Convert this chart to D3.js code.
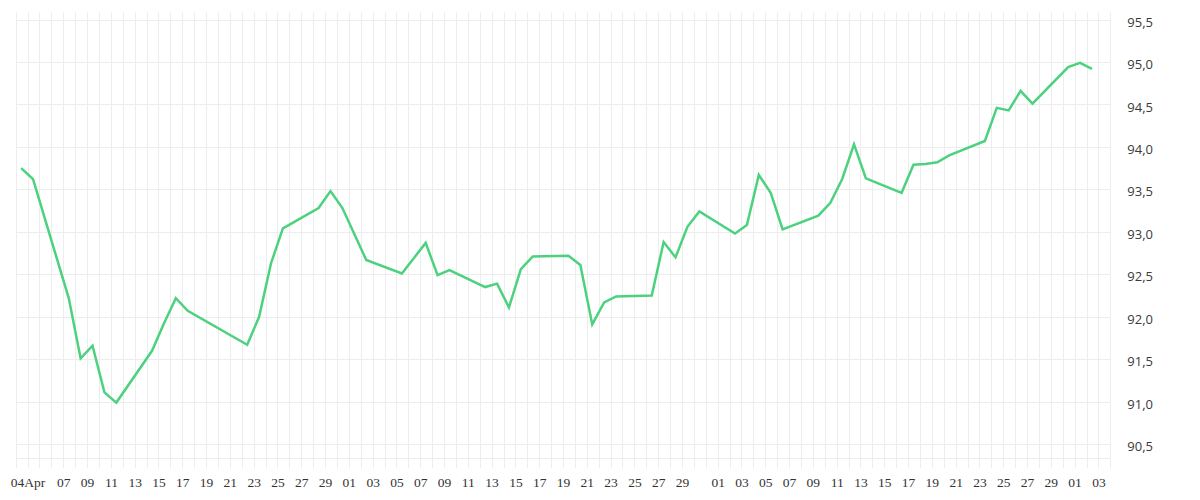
<!DOCTYPE html>
<html>
<head>
<meta charset="utf-8">
<script src="https://cdn.jsdelivr.net/npm/d3@7"></script>
<style>
  html, body { margin: 0; padding: 0; background: #fff; }
  svg { display: block; }
</style>
</head>
<body>
<svg id="chart" width="1200" height="500"></svg>
<script>
// ---- data ----
const dates = [
  "2025-04-03","2025-04-04","2025-04-07","2025-04-08","2025-04-09","2025-04-10","2025-04-11",
  "2025-04-14","2025-04-15","2025-04-16","2025-04-17","2025-04-22","2025-04-23","2025-04-24","2025-04-25",
  "2025-04-28","2025-04-29","2025-04-30","2025-05-02",
  "2025-05-05","2025-05-06","2025-05-07","2025-05-08","2025-05-09",
  "2025-05-12","2025-05-13","2025-05-14","2025-05-15","2025-05-16",
  "2025-05-19","2025-05-20","2025-05-21","2025-05-22","2025-05-23",
  "2025-05-26","2025-05-27","2025-05-28","2025-05-29","2025-05-30",
  "2025-06-02","2025-06-03","2025-06-04","2025-06-05","2025-06-06",
  "2025-06-09","2025-06-10","2025-06-11","2025-06-12","2025-06-13",
  "2025-06-16","2025-06-17","2025-06-18","2025-06-19","2025-06-20",
  "2025-06-23","2025-06-24","2025-06-25","2025-06-26","2025-06-27",
  "2025-06-30","2025-07-01","2025-07-02"
];
const values = [
  93.75, 93.62, 92.22, 91.51, 91.66, 91.11, 90.99,
  91.60, 91.92, 92.22, 92.07, 91.67, 92.00, 92.63, 93.04,
  93.28, 93.48, 93.28, 92.67,
  92.51, 92.69, 92.87, 92.49, 92.55,
  92.35, 92.39, 92.11, 92.56, 92.71,
  92.72, 92.61, 91.91, 92.17, 92.24,
  92.25, 92.88, 92.70, 93.06, 93.24,
  92.98, 93.08, 93.67, 93.46, 93.03,
  93.19, 93.34, 93.62, 94.03, 93.63,
  93.46, 93.79, 93.80, 93.82, 93.90,
  94.07, 94.46, 94.43, 94.66, 94.51,
  94.94, 94.99, 94.92
];
const sampleHour = 11; // time of day of each quote
const tickDates = [
  "2025-04-04","2025-04-07","2025-04-09","2025-04-11","2025-04-13","2025-04-15","2025-04-17","2025-04-19",
  "2025-04-21","2025-04-23","2025-04-25","2025-04-27","2025-04-29","2025-05-01","2025-05-03","2025-05-05",
  "2025-05-07","2025-05-09","2025-05-11","2025-05-13","2025-05-15","2025-05-17","2025-05-19","2025-05-21",
  "2025-05-23","2025-05-25","2025-05-27","2025-05-29","2025-06-01","2025-06-03","2025-06-05","2025-06-07",
  "2025-06-09","2025-06-11","2025-06-13","2025-06-15","2025-06-17","2025-06-19","2025-06-21","2025-06-23",
  "2025-06-25","2025-06-27","2025-06-29","2025-07-01","2025-07-03"
];
const tickLabels = [
  "04Apr","07","09","11","13","15","17","19",
  "21","23","25","27","29","01","03","05",
  "07","09","11","13","15","17","19","21",
  "23","25","27","29","01","03","05","07",
  "09","11","13","15","17","19","21","23",
  "25","27","29","01","03"
];
const xDomain = ["2025-04-03","2025-07-04"];
const yDomain = [90.334, 95.585];
const yTicks = [90.5, 91.0, 91.5, 92.0, 92.5, 93.0, 93.5, 94.0, 94.5, 95.0, 95.5];

// ---- layout ----
const plot = { left: 15.7, right: 1110.3, top: 12.3, bottom: 458.3, tickBottom: 468 };

const parse = d3.timeParse("%Y-%m-%d");
const data = dates.map((d, i) => ({ t: d3.timeHour.offset(parse(d), sampleHour), v: values[i] }));

const x = d3.scaleTime().domain(xDomain.map(parse)).range([plot.left, plot.right]);
const y = d3.scaleLinear().domain(yDomain).range([plot.bottom, plot.top]);

const svg = d3.select("#chart");
const gridColor = "#ededed";

// vertical grid: every day
const days = d3.timeDay.range(parse(xDomain[0]), d3.timeDay.offset(parse(xDomain[1]), 1));
svg.append("g").selectAll("line").data(days).join("line")
  .attr("x1", d => Math.round(x(d)) + 0.5).attr("x2", d => Math.round(x(d)) + 0.5)
  .attr("y1", plot.top).attr("y2", plot.tickBottom)
  .attr("stroke", gridColor).attr("stroke-width", 1);

// horizontal grid
svg.append("g").selectAll("line").data(yTicks).join("line")
  .attr("x1", plot.left).attr("x2", plot.right)
  .attr("y1", d => Math.round(y(d)) + 0.5).attr("y2", d => Math.round(y(d)) + 0.5)
  .attr("stroke", gridColor).attr("stroke-width", 1);
// bottom boundary
svg.append("line")
  .attr("x1", plot.left).attr("x2", plot.right)
  .attr("y1", Math.round(plot.bottom) + 0.5).attr("y2", Math.round(plot.bottom) + 0.5)
  .attr("stroke", gridColor).attr("stroke-width", 1);

// line
const line = d3.line().x(d => x(d.t)).y(d => y(d.v));
svg.append("path").datum(data)
  .attr("d", line)
  .attr("fill", "none")
  .attr("stroke", "#4cd27e")
  .attr("stroke-width", 2.5)
  .attr("stroke-linejoin", "miter")
  .attr("stroke-linecap", "butt");

// x axis
const xAxis = d3.axisBottom(x)
  .tickValues(tickDates.map(parse))
  .tickSize(0)
  .tickPadding(0)
  .tickFormat((d, i) => tickLabels[i]);
const gx = svg.append("g").attr("transform", `translate(0,${plot.bottom})`).call(xAxis);
gx.select(".domain").remove();
gx.selectAll("text")
  .attr("y", 29).attr("dy", 0)
  .attr("font-family", "'Liberation Serif', 'Times New Roman', serif")
  .attr("font-size", 13.5)
  .attr("fill", "#333");

// y axis
const locale = d3.formatLocale({ decimal: ",", thousands: ".", grouping: [3], currency: ["", "€"] });
const fmt = locale.format(".1f");
const yAxis = d3.axisRight(y).tickValues(yTicks).tickSize(0).tickPadding(0).tickFormat(fmt);
const gy = svg.append("g").attr("transform", `translate(${plot.right},0)`).call(yAxis);
gy.select(".domain").remove();
gy.selectAll("text")
  .attr("x", 17).attr("dy", "0.62em").attr("y", -1.5)
  .attr("font-family", "'Open Sans', 'Noto Sans', sans-serif")
  .attr("font-size", 13)
  .attr("fill", "#3a3a3a");
</script>
</body>
</html>
